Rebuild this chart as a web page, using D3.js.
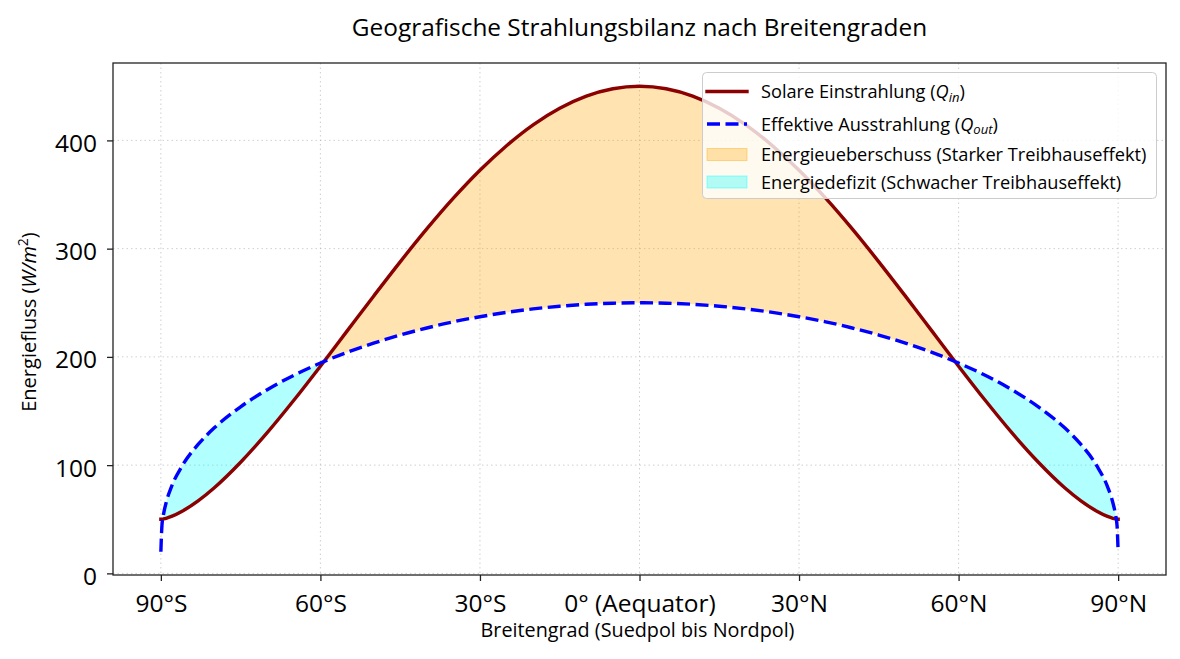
<!DOCTYPE html>
<html>
<head>
<meta charset="utf-8">
<script src="https://cdn.jsdelivr.net/npm/d3@7"></script>
<style>
  html, body { margin: 0; padding: 0; background: #fff; }
  svg { display: block; }
  text { font-family: "Open Sans", "Noto Sans", sans-serif; fill: #000; }
</style>
</head>
<body>
<svg id="chart" width="1180" height="659"></svg>
<script>
// ---- data ----
const latitudes = [-90, -89.8, -89.5, -89, -88, -86, -83, -80, -75, -70, -65, -60, -55, -50, -45, -40, -35, -30, -25, -20, -15, -10, -5,
                   0, 5, 10, 15, 20, 25, 30, 35, 40, 45, 50, 55, 60, 65, 70, 75, 80, 83, 86, 88, 89, 89.5, 89.8, 90];
const qIn = [50, 50.0, 50.3, 50.9, 52.6, 57.4, 67.0, 78.9, 102.7, 130.0, 159.9, 191.4, 223.8, 256.1, 287.8, 318.2, 346.6, 372.4, 395.1, 414.4, 429.7, 440.9, 447.7,
             450, 447.7, 440.9, 429.7, 414.4, 395.1, 372.4, 346.6, 318.2, 287.8, 256.1, 223.8, 191.4, 159.9, 130.0, 102.7, 78.9, 67.0, 57.4, 52.6, 50.9, 50.3, 50.0, 50];
const qOut = [20, 43.9, 54.5, 65.5, 80.1, 99.3, 119.1, 134.2, 153.9, 169.7, 183.0, 194.3, 204.2, 212.7, 220.2, 226.7, 232.4, 237.1, 241.1, 244.3, 246.8, 248.6, 249.6,
              250, 249.6, 248.6, 246.8, 244.3, 241.1, 237.1, 232.4, 226.7, 220.2, 212.7, 204.2, 194.3, 183.0, 169.7, 153.9, 134.2, 119.1, 99.3, 80.1, 65.5, 54.5, 43.9, 20];
const xTickValues = [-90, -60, -30, 0, 30, 60, 90];
const xTickLabels = ["90°S", "60°S", "30°S", "0° (Aequator)", "30°N", "60°N", "90°N"];
const yTickValues = [0, 100, 200, 300, 400];

const titleText = "Geografische Strahlungsbilanz nach Breitengraden";
const xLabelText = "Breitengrad (Suedpol bis Nordpol)";

// ---- layout ----
const plot = { left: 113, right: 1166, top: 63, bottom: 575 };

const svg = d3.select("#chart");
const x = d3.scaleLinear().domain([-99, 99]).range([plot.left, plot.right]);
const y = d3.scaleLinear().domain([-1.5, 471.5]).range([plot.bottom, plot.top]);

const data = latitudes.map((l, i) => ({ lat: l, qin: qIn[i], qout: qOut[i] }));
const curve = d3.curveMonotoneX;

const defs = svg.append("defs");
defs.append("clipPath").attr("id", "plotClip")
  .append("rect").attr("x", plot.left).attr("y", plot.top)
  .attr("width", plot.right - plot.left).attr("height", plot.bottom - plot.top);

// regions used for clipping the fills
const aboveOut = d3.area().curve(curve).x(d => x(d.lat)).y0(d => y(d.qout)).y1(() => plot.top - 50);
const aboveIn = d3.area().curve(curve).x(d => x(d.lat)).y0(d => y(d.qin)).y1(() => plot.top - 50);
const belowIn = d3.area().curve(curve).x(d => x(d.lat)).y0(() => plot.bottom + 50).y1(d => y(d.qin));
const belowOut = d3.area().curve(curve).x(d => x(d.lat)).y0(() => plot.bottom + 50).y1(d => y(d.qout));

defs.append("clipPath").attr("id", "clipAboveOut").append("path").attr("d", aboveOut(data));
defs.append("clipPath").attr("id", "clipAboveIn").append("path").attr("d", aboveIn(data));

// ---- grid ----
const grid = svg.append("g");
grid.selectAll("line.vx").data(xTickValues).enter().append("line")
  .attr("x1", d => x(d)).attr("x2", d => x(d))
  .attr("y1", plot.top).attr("y2", plot.bottom)
  .attr("stroke", "#b0b0b0").attr("stroke-opacity", 0.6).attr("stroke-width", 1)
  .attr("stroke-dasharray", "1.5,3");
grid.selectAll("line.hy").data(yTickValues).enter().append("line")
  .attr("x1", plot.left).attr("x2", plot.right)
  .attr("y1", d => y(d)).attr("y2", d => y(d))
  .attr("stroke", "#b0b0b0").attr("stroke-opacity", 0.6).attr("stroke-width", 1)
  .attr("stroke-dasharray", "1.5,3");

// ---- fills ----
const gPlot = svg.append("g").attr("clip-path", "url(#plotClip)");
gPlot.append("g").attr("clip-path", "url(#clipAboveOut)")
  .append("path").attr("d", belowIn(data))
  .attr("fill", "orange").attr("fill-opacity", 0.3);
gPlot.append("g").attr("clip-path", "url(#clipAboveIn)")
  .append("path").attr("d", belowOut(data))
  .attr("fill", "cyan").attr("fill-opacity", 0.3);

// ---- lines ----
const lineIn = d3.line().curve(curve).x(d => x(d.lat)).y(d => y(d.qin));
const lineOut = d3.line().curve(curve).x(d => x(d.lat)).y(d => y(d.qout));
gPlot.append("path").attr("d", lineIn(data))
  .attr("fill", "none").attr("stroke", "#8b0000").attr("stroke-width", 3.4)
  .attr("stroke-linecap", "square").attr("stroke-linejoin", "round");
gPlot.append("path").attr("d", lineOut(data))
  .attr("fill", "none").attr("stroke", "#0000ff").attr("stroke-width", 3.4)
  .attr("stroke-dasharray", "13,5.5").attr("stroke-linejoin", "round");

// ---- axes ----
const tickFont = 24.5;
const xAxis = d3.axisBottom(x).tickValues(xTickValues).tickFormat((d, i) => xTickLabels[i])
  .tickSizeInner(6).tickSizeOuter(0).tickPadding(6);
const gx = svg.append("g").attr("transform", `translate(0,${plot.bottom})`).call(xAxis);
gx.select(".domain").remove();
gx.selectAll(".tick line").attr("stroke", "#222").attr("stroke-width", 1.3);
gx.selectAll(".tick text").attr("font-size", tickFont).attr("font-family", null).attr("fill", "#000")
  .attr("y", 37).attr("dy", null);

const yAxis = d3.axisLeft(y).tickValues(yTickValues).tickSizeInner(6).tickSizeOuter(0).tickPadding(10);
const gy = svg.append("g").attr("transform", `translate(${plot.left},0)`).call(yAxis);
gy.select(".domain").remove();
gy.selectAll(".tick line").attr("stroke", "#222").attr("stroke-width", 1.3);
gy.selectAll(".tick text").attr("font-size", tickFont).attr("font-family", null).attr("fill", "#000")
  .attr("dy", "0.45em");

// frame
svg.append("rect").attr("x", plot.left).attr("y", plot.top)
  .attr("width", plot.right - plot.left).attr("height", plot.bottom - plot.top)
  .attr("fill", "none").attr("stroke", "#222").attr("stroke-width", 1.3);

// ---- texts ----
svg.append("text").attr("x", (plot.left + plot.right) / 2).attr("y", 35.5)
  .attr("text-anchor", "middle").attr("font-size", 24.4).text(titleText);

svg.append("text").attr("x", (plot.left + plot.right) / 2 - 2).attr("y", 637)
  .attr("text-anchor", "middle").attr("font-size", 19.8).text(xLabelText);

const yl = svg.append("text").attr("transform", `translate(36,${(plot.top + plot.bottom) / 2 + 3}) rotate(-90)`)
  .attr("text-anchor", "middle").attr("font-size", 20);
yl.append("tspan").text("Energiefluss (");
yl.append("tspan").attr("font-style", "italic").text("W/m");
yl.append("tspan").attr("font-size", 14).attr("dy", -8).text("2");
yl.append("tspan").attr("dy", 8).text(")");

// ---- legend ----
const lg = svg.append("g");
lg.append("rect").attr("x", 702.5).attr("y", 72.5).attr("width", 454).attr("height", 126)
  .attr("rx", 4).attr("fill", "#fff").attr("fill-opacity", 0.8)
  .attr("stroke", "#cccccc").attr("stroke-width", 1);

const legendFont = 18.2;
const subFont = 13;
const rowY = [91.5, 124, 154.5, 182];
const hx0 = 707, hx1 = 747, tx = 761;
const base = 6.5;
// row 1
lg.append("line").attr("x1", hx0).attr("x2", hx1).attr("y1", rowY[0]).attr("y2", rowY[0])
  .attr("stroke", "#8b0000").attr("stroke-width", 3.4).attr("stroke-linecap", "square");
const t1 = lg.append("text").attr("x", tx).attr("y", rowY[0] + base).attr("font-size", legendFont);
t1.append("tspan").text("Solare Einstrahlung (");
t1.append("tspan").attr("font-style", "italic").text("Q");
t1.append("tspan").attr("font-style", "italic").attr("font-size", subFont).attr("dy", 3.5).text("in");
t1.append("tspan").attr("dy", -3.5).text(")");
// row 2
lg.append("line").attr("x1", hx0).attr("x2", hx1).attr("y1", rowY[1]).attr("y2", rowY[1])
  .attr("stroke", "#0000ff").attr("stroke-width", 3.4).attr("stroke-dasharray", "13,5.5");
const t2 = lg.append("text").attr("x", tx).attr("y", rowY[1] + base).attr("font-size", legendFont);
t2.append("tspan").text("Effektive Ausstrahlung (");
t2.append("tspan").attr("font-style", "italic").text("Q");
t2.append("tspan").attr("font-style", "italic").attr("font-size", subFont).attr("dy", 3.5).text("out");
t2.append("tspan").attr("dy", -3.5).text(")");
// row 3
lg.append("rect").attr("x", hx0).attr("y", rowY[2] - 6).attr("width", hx1 - hx0).attr("height", 12)
  .attr("fill", "orange").attr("fill-opacity", 0.3).attr("stroke", "orange").attr("stroke-opacity", 0.4);
lg.append("text").attr("x", tx).attr("y", rowY[2] + base).attr("font-size", legendFont)
  .text("Energieueberschuss (Starker Treibhauseffekt)");
// row 4
lg.append("rect").attr("x", hx0).attr("y", rowY[3] - 6).attr("width", hx1 - hx0).attr("height", 12)
  .attr("fill", "cyan").attr("fill-opacity", 0.3).attr("stroke", "cyan").attr("stroke-opacity", 0.4);
lg.append("text").attr("x", tx).attr("y", rowY[3] + base).attr("font-size", legendFont)
  .text("Energiedefizit (Schwacher Treibhauseffekt)");
</script>
</body>
</html>
